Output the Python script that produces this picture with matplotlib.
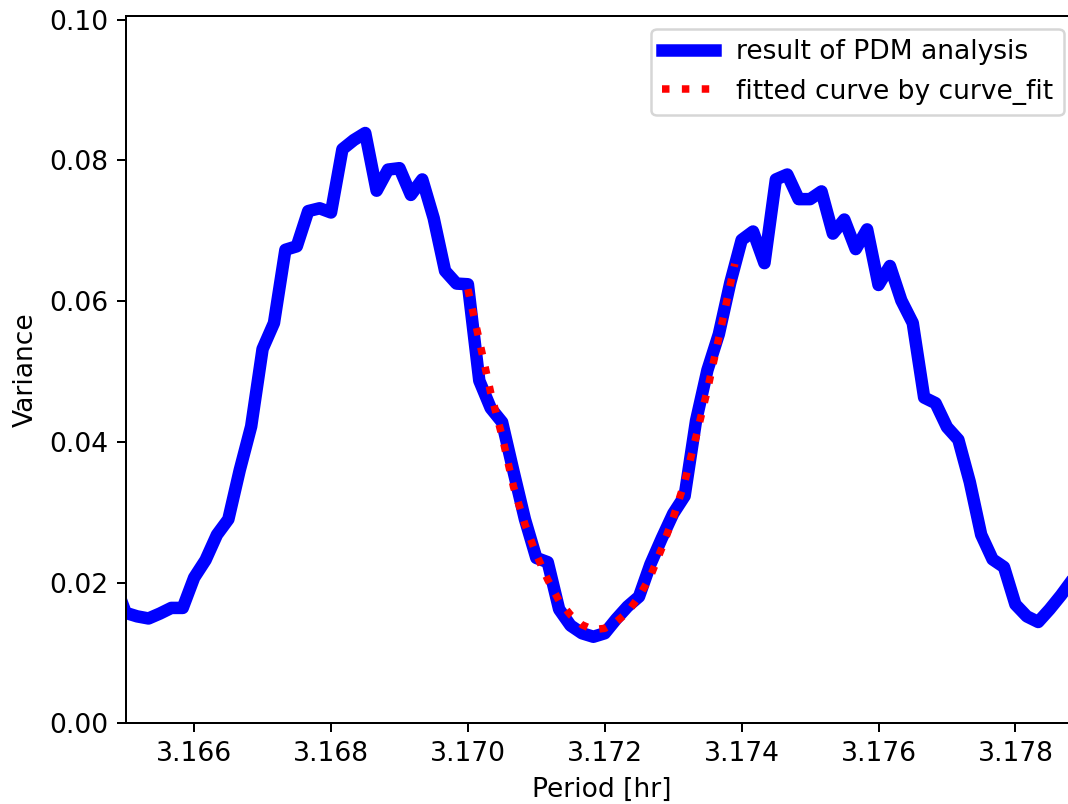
import numpy as np
import matplotlib
matplotlib.use("Agg")
import matplotlib.pyplot as plt

# Period grid of the PDM analysis [hr] (step 0.6 s)
period_first = 3.1648333
period_step = 1.0 / 6000.0

variance = [
    0.0201, 0.0157, 0.0152, 0.0149, 0.0156, 0.0164, 0.0164, 0.0207, 0.0232, 0.0268,
    0.0290, 0.0360, 0.0422, 0.0532, 0.0569, 0.0673, 0.0678, 0.0728, 0.0732, 0.0726,
    0.0816, 0.0829, 0.0839, 0.0757, 0.0787, 0.0789, 0.0751, 0.0773, 0.0718, 0.0643,
    0.0625, 0.0624, 0.0487, 0.0448, 0.0428, 0.0358, 0.0290, 0.0235, 0.0229, 0.0162,
    0.0139, 0.0128, 0.0123, 0.0128, 0.0148, 0.0166, 0.0180, 0.0226, 0.0263, 0.0298,
    0.0323, 0.0430, 0.0502, 0.0553, 0.0626, 0.0687, 0.0699, 0.0654, 0.0773, 0.0780,
    0.0745, 0.0745, 0.0756, 0.0696, 0.0716, 0.0674, 0.0702, 0.0623, 0.0650, 0.0601,
    0.0569, 0.0463, 0.0455, 0.0421, 0.0403, 0.0343, 0.0268, 0.0233, 0.0222, 0.0169,
    0.0152, 0.0144, 0.0162, 0.0182, 0.0204, 0.0225,
]
period = period_first + period_step * np.arange(len(variance))

# fitted curve (curve_fit) evaluated on the sub-range
fit_period = [
    3.170000, 3.170167, 3.170333, 3.170500, 3.170667, 3.170833, 3.171000, 3.171167,
    3.171333, 3.171500, 3.171667, 3.171833, 3.172000, 3.172167, 3.172333, 3.172500,
    3.172667, 3.172833, 3.173000, 3.173167, 3.173333, 3.173500, 3.173667, 3.173833,
    3.173900,
]
fit_variance = [
    0.0617, 0.0544, 0.0470, 0.0408, 0.0336, 0.0283, 0.0240, 0.0204,
    0.0174, 0.0154, 0.0140, 0.0133, 0.0135, 0.0144, 0.0158, 0.0180,
    0.0209, 0.0249, 0.0292, 0.0343, 0.0407, 0.0474, 0.0548, 0.0623,
    0.0653,
]

labels = ["result of PDM analysis", "fitted curve by curve_fit"]

plt.rcParams["font.size"] = 10.6

dpi = 180
fig = plt.figure(figsize=(1068 / dpi, 804 / dpi), dpi=dpi)
W, H = 1068.0, 804.0
ax_left_px, ax_right_px, ax_top_px, ax_bottom_px = 125.7, 1077.0, 15.5, 723.3
ax = fig.add_axes([ax_left_px / W, (H - ax_bottom_px) / H,
                   (ax_right_px - ax_left_px) / W, (ax_bottom_px - ax_top_px) / H])

ax.plot(period, variance, color="blue", lw=5, label=labels[0])
ax.plot(fit_period, fit_variance, color="red", lw=3, ls=":", label=labels[1])

ax.set_xlim(3.165, 3.1789)
ax.set_ylim(0, 0.1006)
ax.set_xticks([3.166, 3.168, 3.170, 3.172, 3.174, 3.176, 3.178])
ax.set_yticks([0.00, 0.02, 0.04, 0.06, 0.08, 0.10])
ax.set_xticklabels(["3.166", "3.168", "3.170", "3.172", "3.174", "3.176", "3.178"])
ax.set_yticklabels(["0.00", "0.02", "0.04", "0.06", "0.08", "0.10"])
ax.set_xlabel("Period [hr]")
ax.set_ylabel("Variance")
ax.legend(loc="upper right")

fig.savefig("out.png", dpi=dpi)
